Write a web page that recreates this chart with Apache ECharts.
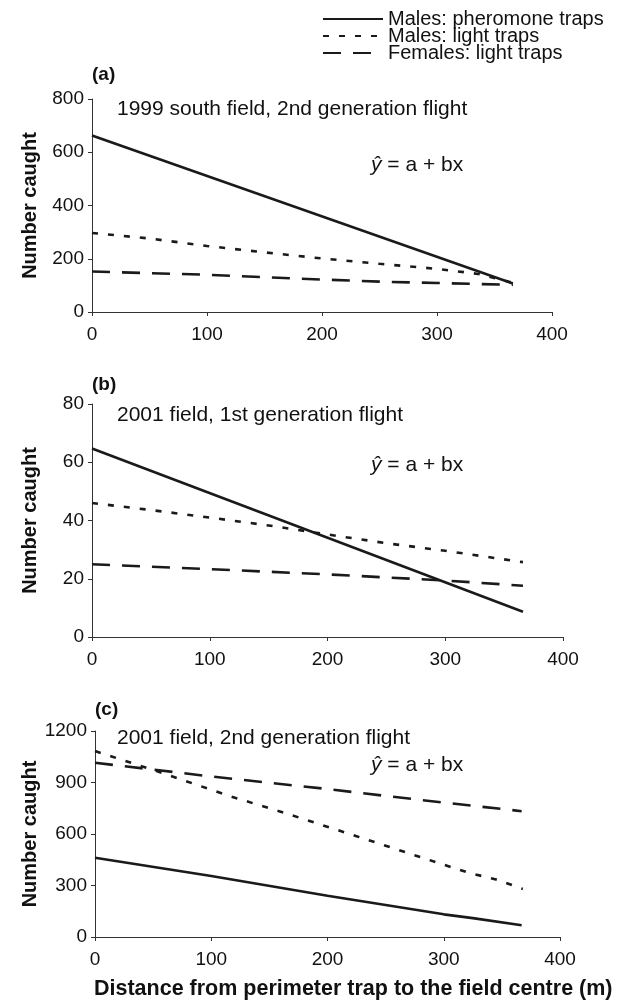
<!DOCTYPE html>
<html>
<head>
<meta charset="utf-8">
<script src="https://cdn.jsdelivr.net/npm/echarts@6/dist/echarts.min.js"></script>
<style>html,body{margin:0;padding:0;background:#fff}#c{width:625px;height:1003px}</style>
</head>
<body>
<div id="c"></div>
<script>
// ---- data ----
const seriesNames = ['Males: pheromone traps', 'Males: light traps', 'Females: light traps'];
const xTicks = [0, 100, 200, 300, 400];

// Panel (a) 1999 south field, 2nd generation flight
const aPherX = [0, 366];
const aPherY = [663, 107];
const aLightMX = [0, 50, 100, 150, 200, 250, 300, 336, 366];
const aLightMY = [297, 276, 248, 224, 201, 181, 162, 143, 110];
const aFemX = [0, 100, 200, 250, 300, 366];
const aFemY = [152, 140, 122, 114, 109, 102];

// Panel (b) 2001 field, 1st generation flight
const bPherX = [0, 366];
const bPherY = [64.7, 8.7];
const bLightMX = [0, 50, 100, 150, 200, 250, 300, 366];
const bLightMY = [46, 43.6, 41, 38.3, 35.2, 32.2, 29.6, 25.7];
const bFemX = [0, 100, 200, 300, 366];
const bFemY = [25, 23.3, 21.5, 19.4, 17.6];

// Panel (c) 2001 field, 2nd generation flight
const cPherX = [0, 100, 200, 300, 325, 367];
const cPherY = [462, 355, 240, 132, 110, 68];
const cLightMX = [0, 15, 59, 113, 169, 225, 281, 322, 345, 368];
const cLightMY = [1083, 1050, 953, 827, 710, 587, 463, 373, 335, 280];
const cFemX = [0, 50, 100, 150, 200, 250, 300, 367];
const cFemY = [1015, 975, 935, 898, 862, 822, 783, 733];

const panelLabels = ['(a)', '(b)', '(c)'];
const panelTitles = ['1999 south field, 2nd generation flight', '2001 field, 1st generation flight', '2001 field, 2nd generation flight'];
const yMax = [800, 80, 1200];
const yInterval = [200, 20, 300];
const yName = 'Number caught';
const xName = 'Distance from perimeter trap to the field centre (m)';

// ---- build ----
const pair = (xs, ys) => xs.map((x, i) => [x, ys[i]]);
const FONT = '"Liberation Sans", Arial, sans-serif';
const INK = '#1a1a1a';

const grids = [
  {left: 92, right: 73, top: 99, height: 213},
  {left: 92, right: 62, top: 404, height: 233},
  {left: 95, right: 65, top: 731, height: 206}
];
const nameGaps = [52, 52, 55];

const xAxes = grids.map((g, i) => ({
  type: 'value', gridIndex: i, min: 0, max: 400, interval: 100,
  axisLine: {lineStyle: {color: '#333', width: 1}},
  axisTick: {show: true, length: 4, lineStyle: {color: '#333'}},
  axisLabel: {color: '#111', fontFamily: FONT, fontSize: 19, margin: 13},
  splitLine: {show: false}
}));
const yAxes = grids.map((g, i) => ({
  type: 'value', gridIndex: i, min: 0, max: yMax[i], interval: yInterval[i],
  name: yName, nameLocation: 'middle', nameGap: nameGaps[i], nameRotate: 90, nameMoveOverlap: false,
  nameTextStyle: {color: '#111', fontFamily: FONT, fontSize: 20, fontWeight: 'bold'},
  axisLine: {show: true, lineStyle: {color: '#333', width: 1}},
  axisTick: {show: true, length: 4, lineStyle: {color: '#333'}},
  axisLabel: {color: '#111', fontFamily: FONT, fontSize: 19, margin: 8, formatter: v => String(v)},
  splitLine: {show: false}
}));

const dotted = [6, 10];
const dashed = [18, 12];
function mk(name, data, idx, type) {
  return {
    name: name, type: 'line', xAxisIndex: idx, yAxisIndex: idx, data: data,
    symbol: 'none', silent: true, animation: false, color: INK,
    itemStyle: {color: INK, opacity: 0},
    lineStyle: {color: INK, width: 2.6, type: type}
  };
}
const series = [
  mk(seriesNames[0], pair(aPherX, aPherY), 0, 'solid'),
  mk(seriesNames[1], pair(aLightMX, aLightMY), 0, dotted),
  mk(seriesNames[2], pair(aFemX, aFemY), 0, dashed),
  mk(seriesNames[0], pair(bPherX, bPherY), 1, 'solid'),
  mk(seriesNames[1], pair(bLightMX, bLightMY), 1, dotted),
  mk(seriesNames[2], pair(bFemX, bFemY), 1, dashed),
  mk(seriesNames[0], pair(cPherX, cPherY), 2, 'solid'),
  mk(seriesNames[1], pair(cLightMX, cLightMY), 2, dotted),
  mk(seriesNames[2], pair(cFemX, cFemY), 2, dashed)
];

const labelY = [75, 385, 710];
const titleY = [109, 415, 738];
const eqY = [165, 465, 765];
const graphic = [];
for (let i = 0; i < 3; i++) {
  graphic.push({type: 'text', x: grids[i].left, y: labelY[i], silent: true,
    style: {text: panelLabels[i], font: 'bold 19px ' + FONT, fill: '#111', verticalAlign: 'middle', align: 'left'}});
  graphic.push({type: 'text', x: 117, y: titleY[i], silent: true,
    style: {text: panelTitles[i], font: '21px ' + FONT, fill: '#111', verticalAlign: 'middle', align: 'left'}});
  graphic.push({type: 'text', x: 371, y: eqY[i], silent: true,
    style: {text: '{i|ŷ} = a + bx', font: '21px ' + FONT, fill: '#111', verticalAlign: 'middle', align: 'left',
      rich: {i: {fontStyle: 'italic', fontSize: 21, fontFamily: FONT, fill: '#111'}}}});
}
graphic.push({type: 'text', x: 94, y: 989, silent: true,
  style: {text: xName, font: 'bold 21.5px ' + FONT, fill: '#111', verticalAlign: 'middle', align: 'left'}});

const chart = echarts.init(document.getElementById('c'), null, {renderer: 'canvas'});
chart.setOption({
  animation: false,
  backgroundColor: '#fff',
  grid: grids,
  xAxis: xAxes,
  yAxis: yAxes,
  legend: {
    data: seriesNames, orient: 'vertical', left: 322, top: 9, padding: 0,
    itemWidth: 60, itemHeight: 10, itemGap: -3,
    itemStyle: {opacity: 0},
    textStyle: {color: '#111', fontFamily: FONT, fontSize: 20},
    selectedMode: false
  },
  graphic: graphic,
  series: series
});
</script>
</body>
</html>
